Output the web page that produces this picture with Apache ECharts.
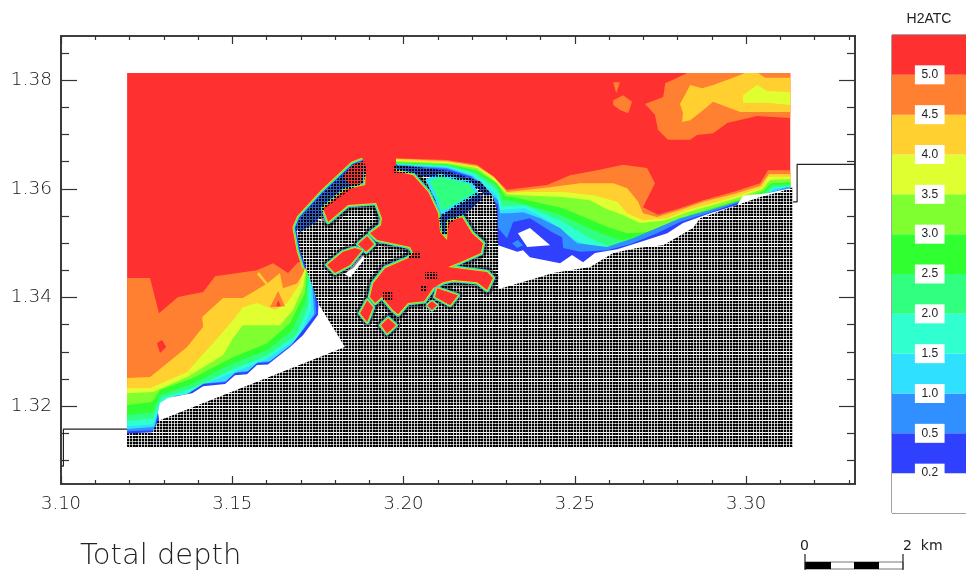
<!DOCTYPE html>
<html><head><meta charset="utf-8">
<style>html,body{margin:0;padding:0;background:#fff;overflow:hidden}#c{width:966px;height:574px}</style>
<script src="https://cdn.jsdelivr.net/npm/echarts@6/dist/echarts.min.js"></script></head>
<body><div id="c"></div><script>
// ---------- axis ticks ----------
const xMajor=[3.10,3.15,3.20,3.25,3.30];
const xMinor=[3.11,3.12,3.13,3.14,3.16,3.17,3.18,3.19,3.21,3.22,3.23,3.24,3.26,3.27,3.28,3.29,3.31,3.32,3.33];
const yMajor=[1.32,1.34,1.36,1.38];
const yMinor=[1.31,1.315,1.325,1.33,1.335,1.345,1.35,1.355,1.365,1.37,1.375,1.385];
const levels=['0.2','0.5','1.0','1.5','2.0','2.5','3.0','3.5','4.0','4.5','5.0'];
// ---------- contour regions (lon, lat) ----------
const waterExtent=[[3.1193,1.3813],[3.3129,1.3813],[3.3129,1.3127],[3.1193,1.3127]];
const c50W=[[3.1193,1.3436],[3.1260,1.3436],[3.1286,1.3371],[3.1342,1.3401],[3.1415,1.3410],[3.1450,1.3439],[3.1572,1.3450],[3.1619,1.3463],[3.1663,1.3445],[3.1692,1.3465],[3.1715,1.3465],[3.1829,1.3309],[3.1193,1.3127]];
const c45W=[[3.1193,1.3252],[3.1260,1.3254],[3.1310,1.3279],[3.1368,1.3309],[3.1415,1.3346],[3.1412,1.3364],[3.1473,1.3399],[3.1531,1.3399],[3.1602,1.3426],[3.1639,1.3445],[3.1648,1.3417],[3.1689,1.3426],[3.1712,1.3450],[3.1829,1.3309],[3.1193,1.3127]];
const c40W=[[3.1193,1.3233],[3.1260,1.3233],[3.1368,1.3263],[3.1444,1.3316],[3.1502,1.3358],[3.1531,1.3382],[3.1572,1.3390],[3.1625,1.3377],[3.1660,1.3390],[3.1698,1.3426],[3.1712,1.3454],[3.1829,1.3309],[3.1193,1.3127]];
const c35W=[[3.1193,1.3224],[3.1269,1.3226],[3.1368,1.3254],[3.1473,1.3294],[3.1502,1.3325],[3.1531,1.3349],[3.1590,1.3349],[3.1639,1.3349],[3.1677,1.3377],[3.1707,1.3419],[3.1715,1.3450],[3.1829,1.3309],[3.1193,1.3127]];
const c30W=[[3.1193,1.3202],[3.1266,1.3208],[3.1289,1.3230],[3.1385,1.3252],[3.1502,1.3290],[3.1602,1.3316],[3.1669,1.3353],[3.1712,1.3408],[3.1718,1.3450],[3.1829,1.3309],[3.1193,1.3127]];
const c25W=[[3.1193,1.3184],[3.1266,1.3189],[3.1289,1.3220],[3.1385,1.3242],[3.1502,1.3279],[3.1602,1.3303],[3.1675,1.3340],[3.1715,1.3395],[3.1721,1.3450],[3.1829,1.3309],[3.1193,1.3127]];
const c20W=[[3.1193,1.3173],[3.1269,1.3178],[3.1292,1.3215],[3.1391,1.3235],[3.1502,1.3268],[3.1604,1.3294],[3.1686,1.3331],[3.1721,1.3382],[3.1724,1.3450],[3.1829,1.3309],[3.1193,1.3127]];
const c15W=[[3.1193,1.3163],[3.1269,1.3167],[3.1292,1.3208],[3.1371,1.3224],[3.1420,1.3242],[3.1499,1.3261],[3.1599,1.3287],[3.1695,1.3327],[3.1730,1.3377],[3.1727,1.3460],[3.1829,1.3309],[3.1193,1.3127]];
const c10W=[[3.1193,1.3158],[3.1272,1.3162],[3.1289,1.3200],[3.1342,1.3217],[3.1385,1.3226],[3.1418,1.3242],[3.1482,1.3246],[3.1514,1.3263],[3.1549,1.3265],[3.1575,1.3281],[3.1610,1.3283],[3.1677,1.3316],[3.1739,1.3369],[3.1730,1.3460],[3.1829,1.3309],[3.1193,1.3127]];
const c05W=[[3.1193,1.3154],[3.1272,1.3156],[3.1286,1.3195],[3.1333,1.3219],[3.1368,1.3222],[3.1415,1.3241],[3.1479,1.3244],[3.1508,1.3261],[3.1543,1.3263],[3.1572,1.3279],[3.1607,1.3281],[3.1672,1.3312],[3.1745,1.3371],[3.1736,1.3460],[3.1829,1.3309],[3.1193,1.3127]];
const dryW=[[3.1283,1.3189],[3.1289,1.3206],[3.1312,1.3215],[3.1347,1.3220],[3.1383,1.3224],[3.1415,1.3237],[3.1479,1.3241],[3.1508,1.3257],[3.1543,1.3259],[3.1572,1.3276],[3.1604,1.3277],[3.1669,1.3309],[3.1707,1.3331],[3.1750,1.3368],[3.1753,1.3404],[3.1829,1.3309],[3.1289,1.3165]];
const spotRedW=[[3.1280,1.3316],[3.1295,1.3322],[3.1307,1.3309],[3.1289,1.3298]];
const spotOrangeW=[[3.1610,1.3382],[3.1634,1.3412],[3.1654,1.3384]];
const spotRedW2=[[3.1628,1.3384],[3.1634,1.3395],[3.1642,1.3384]];
const streakW=[[3.1572,1.3443],[3.1578,1.3447],[3.1604,1.3426],[3.1599,1.3423]];
const c50E=[[3.1975,1.3656],[3.2127,1.3653],[3.2215,1.3644],[3.2261,1.3623],[3.2302,1.3598],[3.2419,1.3607],[3.2486,1.3625],[3.2565,1.3634],[3.2641,1.3644],[3.2711,1.3638],[3.2734,1.3610],[3.2699,1.3566],[3.2743,1.3552],[3.2807,1.3564],[3.2875,1.3579],[3.2962,1.3594],[3.3041,1.3610],[3.3064,1.3634],[3.3129,1.3634],[3.3129,1.3395],[3.1975,1.3395]];
const c45E=[[3.1975,1.3655],[3.2127,1.3651],[3.2215,1.3642],[3.2264,1.3622],[3.2302,1.3594],[3.2428,1.3603],[3.2515,1.3610],[3.2612,1.3610],[3.2653,1.3601],[3.2685,1.3576],[3.2699,1.3555],[3.2740,1.3548],[3.2807,1.3561],[3.2875,1.3576],[3.2962,1.3590],[3.3041,1.3605],[3.3067,1.3627],[3.3129,1.3627],[3.3129,1.3395],[3.1975,1.3395]];
const c40E=[[3.1975,1.3653],[3.2127,1.3649],[3.2215,1.3640],[3.2267,1.3618],[3.2302,1.3592],[3.2349,1.3594],[3.2466,1.3594],[3.2553,1.3588],[3.2624,1.3576],[3.2653,1.3555],[3.2699,1.3542],[3.2770,1.3546],[3.2828,1.3561],[3.2904,1.3574],[3.2974,1.3587],[3.3047,1.3603],[3.3064,1.3622],[3.3129,1.3622],[3.3129,1.3395],[3.1975,1.3395]];
const c35E=[[3.1975,1.3651],[3.2127,1.3647],[3.2215,1.3638],[3.2267,1.3614],[3.2302,1.3590],[3.2349,1.3588],[3.2466,1.3585],[3.2545,1.3579],[3.2588,1.3564],[3.2638,1.3552],[3.2691,1.3537],[3.2764,1.3542],[3.2828,1.3557],[3.2904,1.3570],[3.2974,1.3583],[3.3047,1.3599],[3.3070,1.3616],[3.3129,1.3618],[3.3129,1.3395],[3.1975,1.3395]];
const c30E=[[3.1975,1.3649],[3.2127,1.3645],[3.2212,1.3634],[3.2273,1.3610],[3.2296,1.3587],[3.2320,1.3585],[3.2466,1.3564],[3.2594,1.3530],[3.2653,1.3518],[3.2705,1.3520],[3.2770,1.3531],[3.2837,1.3552],[3.2910,1.3566],[3.2977,1.3579],[3.3050,1.3596],[3.3073,1.3610],[3.3129,1.3612],[3.3129,1.3395],[3.1975,1.3395]];
const c25E=[[3.1975,1.3647],[3.2127,1.3644],[3.2209,1.3631],[3.2273,1.3605],[3.2291,1.3579],[3.2311,1.3579],[3.2457,1.3552],[3.2574,1.3518],[3.2632,1.3506],[3.2705,1.3509],[3.2772,1.3528],[3.2843,1.3546],[3.2916,1.3563],[3.2983,1.3576],[3.3053,1.3592],[3.3076,1.3607],[3.3129,1.3609],[3.3129,1.3395],[3.1975,1.3395]];
const c20E=[[3.1975,1.3646],[3.2127,1.3642],[3.2206,1.3629],[3.2273,1.3598],[3.2291,1.3568],[3.2355,1.3570],[3.2457,1.3542],[3.2545,1.3509],[3.2603,1.3493],[3.2691,1.3502],[3.2772,1.3520],[3.2845,1.3542],[3.2918,1.3559],[3.2986,1.3572],[3.3056,1.3588],[3.3079,1.3603],[3.3129,1.3605],[3.3129,1.3395],[3.1975,1.3395]];
const c15E=[[3.1975,1.3645],[3.2127,1.3640],[3.2203,1.3625],[3.2273,1.3588],[3.2282,1.3561],[3.2355,1.3564],[3.2422,1.3542],[3.2501,1.3506],[3.2574,1.3487],[3.2667,1.3493],[3.2772,1.3515],[3.2848,1.3537],[3.2921,1.3555],[3.2989,1.3570],[3.3059,1.3587],[3.3082,1.3601],[3.3129,1.3603],[3.3129,1.3395],[3.1975,1.3395]];
const c10E=[[3.1975,1.3644],[3.2127,1.3638],[3.2200,1.3623],[3.2276,1.3579],[3.2282,1.3555],[3.2311,1.3555],[3.2349,1.3557],[3.2399,1.3546],[3.2457,1.3528],[3.2486,1.3511],[3.2507,1.3500],[3.2594,1.3493],[3.2670,1.3509],[3.2740,1.3528],[3.2807,1.3546],[3.2895,1.3561],[3.2974,1.3576],[3.3041,1.3588],[3.3120,1.3603],[3.3129,1.3603],[3.3129,1.3395],[3.1975,1.3395]];
const c05E=[[3.1975,1.3643],[3.2127,1.3636],[3.2197,1.3622],[3.2276,1.3570],[3.2276,1.3528],[3.2302,1.3509],[3.2320,1.3539],[3.2369,1.3546],[3.2434,1.3520],[3.2463,1.3511],[3.2466,1.3491],[3.2515,1.3484],[3.2594,1.3487],[3.2661,1.3498],[3.2740,1.3518],[3.2807,1.3539],[3.2895,1.3557],[3.2974,1.3574],[3.3041,1.3585],[3.3129,1.3601],[3.3129,1.3395],[3.1975,1.3395]];
const dryE=[[3.2276,1.3496],[3.2332,1.3484],[3.2349,1.3487],[3.2369,1.3474],[3.2457,1.3463],[3.2492,1.3478],[3.2524,1.3465],[3.2559,1.3482],[3.2624,1.3489],[3.2691,1.3502],[3.2770,1.3518],[3.2816,1.3537],[3.2895,1.3555],[3.2974,1.3570],[3.2991,1.3587],[3.3062,1.3592],[3.3129,1.3601],[3.3137,1.3603],[3.3137,1.3395],[3.2276,1.3395]];
const dryIsland=[[3.2334,1.3518],[3.2369,1.3528],[3.2428,1.3496],[3.2361,1.3493]];
const blueSpotE=[[3.2317,1.3500],[3.2334,1.3506],[3.2349,1.3496],[3.2332,1.3491]];
const c50NE=[[3.2828,1.3813],[3.3129,1.3813],[3.3129,1.3730],[3.3032,1.3734],[3.2945,1.3721],[3.2904,1.3702],[3.2857,1.3699],[3.2837,1.3690],[3.2772,1.3690],[3.2743,1.3708],[3.2734,1.3736],[3.2705,1.3756],[3.2758,1.3769],[3.2764,1.3794],[3.2799,1.3804]];
const c45NE=[[3.2997,1.3813],[3.3035,1.3813],[3.3056,1.3804],[3.3129,1.3804],[3.3129,1.3741],[3.3050,1.3741],[3.2983,1.3741],[3.2904,1.3760],[3.2875,1.3745],[3.2837,1.3726],[3.2813,1.3723],[3.2816,1.3739],[3.2807,1.3756],[3.2837,1.3791],[3.2872,1.3785],[3.2904,1.3791],[3.2962,1.3804]];
const c40NE=[[3.3032,1.3791],[3.3062,1.3780],[3.3129,1.3778],[3.3129,1.3754],[3.3062,1.3758],[3.2991,1.3758],[3.2991,1.3772]];
const spotOrangeN=[[3.2612,1.3763],[3.2641,1.3772],[3.2667,1.3760],[3.2656,1.3739],[3.2632,1.3745],[3.2612,1.3754]];
const spotOrangeN2=[[3.2612,1.3796],[3.2632,1.3796],[3.2621,1.3776]];
// ---------- land, harbour ----------
const land=[[3.1193,1.3123],[3.1193,1.3150],[3.1266,1.3152],[3.1283,1.3173],[3.1829,1.3309],[3.1750,1.3390],[3.1733,1.3423],[3.1718,1.3450],[3.1698,1.3487],[3.1686,1.3528],[3.1698,1.3546],[3.1765,1.3592],[3.1853,1.3644],[3.1882,1.3651],[3.1969,1.3643],[3.2034,1.3640],[3.2121,1.3633],[3.2223,1.3614],[3.2259,1.3588],[3.2273,1.3561],[3.2276,1.3487],[3.2276,1.3415],[3.2369,1.3432],[3.2437,1.3445],[3.2545,1.3456],[3.2612,1.3482],[3.2682,1.3491],[3.2758,1.3496],[3.2845,1.3528],[3.2866,1.3546],[3.2991,1.3574],[3.3041,1.3585],[3.3099,1.3594],[3.3137,1.3603],[3.3137,1.3123]];
const hullWest=[[3.1715,1.3454],[3.1698,1.3487],[3.1686,1.3528],[3.1698,1.3546],[3.1765,1.3592],[3.1853,1.3644],[3.1882,1.3651]];
const lagoon=[[3.2069,1.3616],[3.2098,1.3579],[3.2107,1.3555],[3.2136,1.3564],[3.2215,1.3592],[3.2194,1.3612],[3.2107,1.3625]];
const basinMain=[[3.1891,1.3642],[3.1969,1.3638],[3.1969,1.3634],[3.2028,1.3625],[3.2072,1.3594],[3.2101,1.3555],[3.2107,1.3520],[3.2127,1.3506],[3.2130,1.3539],[3.2171,1.3548],[3.2200,1.3518],[3.2232,1.3500],[3.2226,1.3482],[3.2165,1.3465],[3.2130,1.3456],[3.2244,1.3447],[3.2261,1.3436],[3.2244,1.3414],[3.2215,1.3428],[3.2145,1.3432],[3.2115,1.3428],[3.2086,1.3417],[3.2060,1.3393],[3.2013,1.3390],[3.1984,1.3369],[3.1969,1.3377],[3.1937,1.3401],[3.1917,1.3390],[3.1902,1.3401],[3.1911,1.3426],[3.1946,1.3454],[3.2013,1.3472],[3.2028,1.3482],[3.2019,1.3493],[3.1923,1.3506],[3.1902,1.3518],[3.1934,1.3533],[3.1937,1.3546],[3.1920,1.3574],[3.1838,1.3570],[3.1780,1.3539],[3.1765,1.3564],[3.1829,1.3598],[3.1888,1.3607]];
const mouth=[[3.1885,1.3656],[3.1978,1.3656],[3.1978,1.3629],[3.1885,1.3629]];
const basinD1=[[3.1894,1.3513],[3.1914,1.3498],[3.1891,1.3484],[3.1867,1.3498]];
const basinLens=[[3.1858,1.3491],[3.1879,1.3487],[3.1844,1.3460],[3.1800,1.3445],[3.1777,1.3460],[3.1823,1.3484]];
const basinF1=[[3.1894,1.3395],[3.1911,1.3382],[3.1894,1.3355],[3.1873,1.3371]];
const basinD2=[[3.1955,1.3362],[3.1978,1.3349],[3.1952,1.3334],[3.1934,1.3349]];
const basinF2=[[3.2098,1.3417],[3.2159,1.3404],[3.2136,1.3386],[3.2092,1.3401]];
const basinC=[[3.2083,1.3393],[3.2098,1.3386],[3.2083,1.3377],[3.2069,1.3386]];
const dryA=[[3.1750,1.3542],[3.1771,1.3548],[3.1791,1.3537]];
const dryB=[[3.1829,1.3443],[3.1879,1.3478],[3.1888,1.3472],[3.1844,1.3437]];
const stripNW=[[3.1686,1.3528],[3.1698,1.3546],[3.1765,1.3592],[3.1853,1.3644],[3.1882,1.3651],[3.1894,1.3634],[3.1882,1.3610],[3.1850,1.3601],[3.1771,1.3564],[3.1745,1.3539],[3.1698,1.3520]];
const stripNWtop=[[3.1823,1.3623],[3.1853,1.3644],[3.1882,1.3651],[3.1894,1.3634],[3.1882,1.3610],[3.1850,1.3601]];
const stripNE=[[3.1969,1.3643],[3.2034,1.3640],[3.2121,1.3633],[3.2223,1.3614],[3.2259,1.3588],[3.2238,1.3588],[3.2200,1.3610],[3.2121,1.3622],[3.2063,1.3622],[3.2031,1.3629],[3.1969,1.3629]];
const stripS=[[3.2104,1.3546],[3.2142,1.3566],[3.2215,1.3594],[3.2232,1.3583],[3.2194,1.3561],[3.2133,1.3535],[3.2127,1.3515],[3.2110,1.3515]];
const dotsA=[[3.2063,1.3447],[3.2098,1.3447],[3.2098,1.3434],[3.2063,1.3434]];
const dotsB=[[3.2048,1.3423],[3.2069,1.3423],[3.2069,1.3410],[3.2048,1.3410]];
const dotsC=[[3.1940,1.3412],[3.1967,1.3412],[3.1967,1.3395],[3.1940,1.3395]];
const dotsD=[[3.2013,1.3484],[3.2048,1.3484],[3.2048,1.3472],[3.2013,1.3472]];
// ---------- grid outline ----------
const outlineW=[[3.1193,1.3158],[3.1007,1.3158],[3.1007,1.3090],[3.10,1.3090]];
const outlineE=[[3.3137,1.3576],[3.3149,1.3576],[3.3149,1.3645],[3.3318,1.3645]];

const C={red:'#FF3030',or:'#FF8030',yo:'#FFD030',yg:'#DFFF30',li:'#80FF30',gr:'#30FF30',gt:'#30FF80',te:'#30FFD0',cy:'#30E0FF',bl:'#3090FF',db:'#3040FF'};
const bandColors=['#ffffff',C.db,C.bl,C.cy,C.te,C.gt,C.gr,C.li,C.yg,C.yo,C.or,C.red];

function makePattern(opaque){
  const w=30,h=27,c=document.createElement('canvas');c.width=w;c.height=h;
  const g=c.getContext('2d');
  for(let y=0;y<h;y++)for(let x=0;x<w;x++){
    const lx=x%3===0,ly=y%3===0;let col='#000';
    if(opaque){
      if(lx&&ly)col='#eee';
      else if(ly)col=(y<=3||y===15)?'#fff':'#999';
      else if(lx)col=(x%15===0)?'#333':'#bbb';
    }else{
      if(lx||ly)col='rgba(0,0,0,0)';
    }
    g.fillStyle=col;if(col!=='rgba(0,0,0,0)')g.fillRect(x,y,1,1);
  }
  return c;
}
const landFill={image:makePattern(true),repeat:'repeat'};
const dotFill={image:makePattern(false),repeat:'repeat'};

const layers=[];
const poly=(pts,fill)=>layers.push({pts,fill});
const line=(pts,stroke,w)=>layers.push({pts,stroke,w,line:true});
const halo=(pts,w)=>layers.push({pts,fill:null,stroke:'rgba(0,0,0,0.45)',w});
function basin(pts,k){ // rim of shallow bands, red water inside
  [[5,C.bl],[4,C.te],[3,C.gr],[1.6,C.yo]].forEach(r=>layers.push({pts,fill:r[1],stroke:r[1],w:r[0]*k}));
  poly(pts,C.red);
}
const basinsSmall=[basinD1,basinLens,basinF1,basinD2,basinF2];
poly(waterExtent,C.red);
[[c50W,C.or],[c45W,C.yo],[c40W,C.yg],[c35W,C.li],[c30W,C.gr],[c25W,C.gt],[c20W,C.te],[c15W,C.cy],[c10W,C.bl],[c05W,C.db]].forEach(a=>poly(a[0],a[1]));
poly(spotRedW,C.red);poly(streakW,C.yo);poly(spotOrangeW,C.or);poly(spotRedW2,C.red);
[[c50E,C.or],[c45E,C.yo],[c40E,C.yg],[c35E,C.li],[c30E,C.gr],[c25E,C.gt],[c20E,C.te],[c15E,C.cy],[c10E,C.bl],[c05E,C.db]].forEach(a=>poly(a[0],a[1]));
[[c50NE,C.or],[c45NE,C.yo],[c40NE,C.yg],[spotOrangeN,C.or],[spotOrangeN2,C.or]].forEach(a=>poly(a[0],a[1]));
poly(dryW,'#fff');poly(dryE,'#fff');poly(dryIsland,'#fff');poly(blueSpotE,C.bl);
[[7,C.yo],[5.5,C.gr],[4,C.te],[2.5,C.db]].forEach(r=>line(hullWest,r[1],r[0]));
poly(land,landFill);
poly(dryA,'#fff');poly(dryB,'#fff');
halo(basinMain,11);basinsSmall.forEach(b=>halo(b,9));
poly(stripNW,'#2c62c8');poly(stripNWtop,C.red);poly(stripNE,'#2c50c8');poly(stripS,'#2c50c8');
layers.push({pts:lagoon,fill:C.gt,stroke:C.cy,w:3});
basin(basinMain,1);
poly(mouth,C.red);
basinsSmall.forEach(b=>basin(b,0.9));
basin(basinC,0.7);
[stripNW,stripNE,stripS,dotsA,dotsB,dotsC,dotsD].forEach(a=>poly(a,dotFill));
line(outlineW,'#222',1.2);line(outlineE,'#222',1.2);

function renderMap(params,api){
  const l=layers[params.dataIndex];
  const pts=l.pts.map(p=>api.coord(p));
  if(l.line)return{type:'polyline',shape:{points:pts},style:{fill:null,stroke:l.stroke,lineWidth:l.w,lineJoin:'round'}};
  return{type:'polygon',shape:{points:pts},style:{fill:l.fill,stroke:l.stroke||null,lineWidth:l.w||0,lineJoin:'round'}};
}
function renderBar(params,api){
  const i=params.dataIndex;
  const a=api.coord([0,i+1]),b=api.coord([1,i]);
  return{type:'rect',shape:{x:a[0],y:a[1],width:b[0]-a[0],height:b[1]-a[1]},style:{fill:bandColors[i]}};
}
function renderLevel(params,api){
  const i=params.dataIndex;
  const p=api.coord([0.51,i+1]);
  return{type:'text',style:{text:levels[i],x:p[0],y:p[1],align:'center',verticalAlign:'middle',fill:'#222',font:'12px "Liberation Sans"',backgroundColor:'#fff',padding:[3.5,6.5,3.5,6.5]}};
}
const tickFont='"DejaVu Sans Light","DejaVu Sans"';
const axisLine={show:true,onZero:false,lineStyle:{color:'#333',width:1.6}};
function xA(pos,ticks,len,labels){return{type:'value',gridIndex:0,position:pos,min:3.10,max:3.3318,axisLine,splitLine:{show:false},
  axisTick:{show:true,inside:true,length:len,customValues:ticks,lineStyle:{color:'#333',width:1.2}},
  axisLabel:labels?{show:true,customValues:ticks,margin:11,color:'#111',fontFamily:tickFont,fontSize:18,formatter:v=>v.toFixed(2)}:{show:false}};}
function yA(pos,ticks,len,labels){return{type:'value',gridIndex:0,position:pos,min:1.3057,max:1.3881,axisLine,splitLine:{show:false},
  axisTick:{show:true,inside:true,length:len,customValues:ticks,lineStyle:{color:'#333',width:1.2}},
  axisLabel:labels?{show:true,customValues:ticks,margin:9,color:'#111',fontFamily:tickFont,fontSize:18.5,formatter:v=>v.toFixed(2)}:{show:false}};}
const option={
  animation:false,backgroundColor:'#fff',
  title:[
    {text:'Total depth',left:75,top:537,textStyle:{fontFamily:tickFont,fontWeight:'normal',fontSize:29,color:'#222'}},
    {text:'H2ATC',left:924,top:7,textAlign:'center',textStyle:{fontFamily:'"Liberation Sans"',fontWeight:'normal',fontSize:14,color:'#222'}}
  ],
  grid:[
    {left:61,right:111,top:36,bottom:90,show:false},
    {left:892,right:-2,top:35,bottom:61,show:true,borderColor:'#444',borderWidth:1,backgroundColor:'#fff'}
  ],
  xAxis:[xA('bottom',xMajor,8,true),xA('bottom',xMinor,4,false),xA('top',xMajor,8,false),xA('top',xMinor,4,false),
    {type:'value',gridIndex:1,min:0,max:1,show:false}],
  yAxis:[yA('left',yMajor,16,true),yA('left',yMinor,8,false),yA('right',yMajor,16,false),yA('right',yMinor,8,false),
    {type:'value',gridIndex:1,min:0,max:12,show:false}],
  series:[
    {type:'custom',xAxisIndex:0,yAxisIndex:0,clip:false,silent:true,renderItem:renderMap,encode:{x:0,y:1},data:layers.map(l=>l.pts[0])},
    {type:'custom',xAxisIndex:4,yAxisIndex:4,silent:true,renderItem:renderBar,encode:{y:0},data:bandColors.map((c,i)=>[i])},
    {type:'custom',xAxisIndex:4,yAxisIndex:4,silent:true,clip:false,renderItem:renderLevel,encode:{y:0},data:levels.map((c,i)=>[i+1])}
  ],
  graphic:[
    {type:'text',left:800,top:539,style:{text:'0',fill:'#222',font:'14px "DejaVu Sans"'}},
    {type:'text',left:903,top:539,style:{text:'2  km',fill:'#222',font:'14px "DejaVu Sans"'}},
    {type:'rect',shape:{x:805,y:562,width:98,height:7},style:{fill:'#fff',stroke:'#777',lineWidth:1}},
    {type:'rect',shape:{x:805,y:562,width:26,height:7},style:{fill:'#000'}},
    {type:'rect',shape:{x:854,y:562,width:25,height:7},style:{fill:'#000'}},
    {type:'line',shape:{x1:805,y1:554,x2:805,y2:570},style:{stroke:'#222',lineWidth:1.2}},
    {type:'line',shape:{x1:903,y1:554,x2:903,y2:570},style:{stroke:'#222',lineWidth:1.2}}
  ]
};
const chart=echarts.init(document.getElementById('c'),null,{renderer:'canvas'});
chart.setOption(option);
</script></body></html>
